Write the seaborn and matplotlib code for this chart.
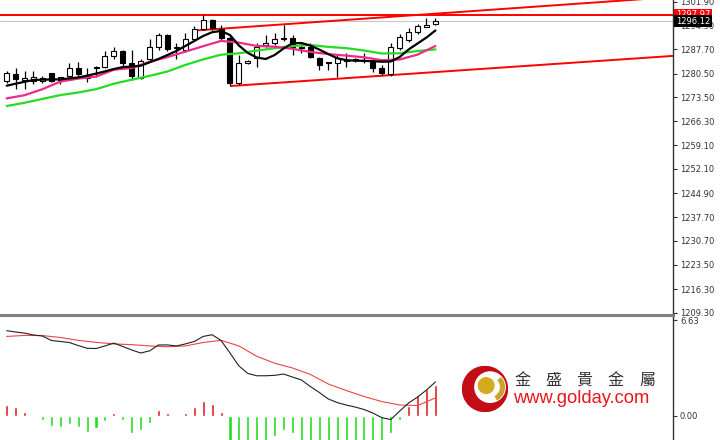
import numpy as np
import pandas as pd
import matplotlib
matplotlib.use('Agg')
import matplotlib.pyplot as plt
from matplotlib.patches import Circle, Wedge
import seaborn as sns

# --- price panel data (bar index 0..48) ---
opens = [1278.29, 1280.37, 1278.59, 1278.29, 1278.38, 1280.58, 1278.59, 1279.78, 1282.25, 1280.07,
         1282.07, 1282.55, 1285.73, 1287.31, 1283.74, 1279.27, 1284.75, 1288.32, 1291.99, 1288.03,
         1287.52, 1290.71, 1293.77, 1296.45, 1293.77, 1291.09, 1277.60, 1283.56, 1285.05, 1289.01,
         1289.52, 1290.71, 1291.18, 1288.50, 1288.50, 1285.23, 1283.86, 1283.56, 1284.39, 1284.54,
         1284.33, 1284.04, 1282.25, 1280.37, 1288.03, 1290.50, 1292.97, 1294.46, 1295.17]
highs = [1281.36, 1282.07, 1281.36, 1281.36, 1279.78, 1280.76, 1279.57, 1283.56, 1284.04, 1282.25,
         1282.67, 1287.22, 1288.50, 1287.52, 1287.52, 1284.75, 1290.71, 1292.49, 1292.20, 1289.69,
         1292.67, 1294.67, 1297.90, 1296.66, 1294.96, 1291.69, 1286.03, 1284.43, 1289.69, 1291.99,
         1292.49, 1294.96, 1291.99, 1289.52, 1289.69, 1285.53, 1284.04, 1286.03, 1286.54, 1285.05,
         1286.54, 1284.54, 1283.05, 1289.52, 1292.20, 1293.98, 1295.17, 1296.96, 1296.96]
lows = [1277.60, 1275.82, 1275.82, 1277.39, 1277.60, 1278.08, 1277.39, 1279.39, 1279.39, 1278.08,
        1279.57, 1282.07, 1284.75, 1282.55, 1278.59, 1278.97, 1284.04, 1287.52, 1287.31, 1284.75,
        1287.01, 1290.29, 1293.48, 1293.48, 1290.50, 1276.80, 1277.10, 1283.46, 1282.55, 1288.50,
        1289.01, 1290.29, 1286.03, 1286.54, 1285.05, 1281.56, 1281.56, 1279.39, 1282.55, 1284.04,
        1283.74, 1281.06, 1280.07, 1279.87, 1287.52, 1289.99, 1292.20, 1294.46, 1294.96]
closes = [1280.76, 1278.79, 1279.27, 1279.39, 1279.09, 1278.29, 1279.39, 1282.25, 1280.37, 1279.09,
          1282.55, 1285.73, 1287.31, 1283.56, 1279.78, 1284.24, 1288.32, 1291.99, 1287.73, 1288.50,
          1290.71, 1293.68, 1296.60, 1293.98, 1291.09, 1277.60, 1283.56, 1284.33, 1288.50, 1289.52,
          1290.71, 1291.00, 1288.50, 1288.03, 1285.53, 1283.05, 1283.56, 1285.05, 1284.69, 1284.54,
          1284.36, 1282.07, 1280.76, 1288.50, 1291.48, 1292.97, 1294.76, 1294.96, 1296.12]

ma_fast = [1276.89, 1277.48, 1278.05, 1278.59, 1278.68, 1278.74, 1278.79, 1279.06, 1279.33, 1279.87,
           1280.49, 1281.15, 1281.86, 1282.43, 1282.58, 1282.84, 1283.86, 1284.87, 1286.03, 1287.22,
           1288.71, 1290.20, 1291.69, 1292.82, 1293.18, 1291.99, 1288.86, 1286.63, 1285.29, 1284.84,
           1286.03, 1287.97, 1289.54, 1289.60, 1288.86, 1287.64, 1286.33, 1285.05, 1284.51, 1284.33,
           1284.30, 1284.18, 1284.04, 1284.10, 1285.44, 1287.67, 1289.46, 1291.24, 1293.33]
ma_idx = list(range(0, 49, 2))
ma_mid = [1273.11, 1274.06, 1275.85, 1278.11, 1279.00, 1279.60, 1281.65, 1282.16, 1284.00, 1285.41,
          1287.04, 1288.65, 1290.23, 1289.72, 1288.71, 1288.50, 1287.88, 1286.95, 1286.30, 1285.85,
          1285.35, 1284.48, 1284.69, 1286.15, 1288.71]
ma_slow = [1270.84, 1271.80, 1272.96, 1274.09, 1274.86, 1275.85, 1277.48, 1278.68, 1279.81, 1281.12,
           1283.08, 1284.72, 1286.12, 1286.54, 1287.34, 1288.05, 1288.71, 1289.01, 1288.44, 1288.08,
           1287.37, 1286.48, 1286.54, 1287.22, 1287.70]

# channel lines: (bar index, price) end points
upper_line = [(21.1, 1293.32), (74.6, 1303.30)]
lower_line = [(25.1, 1276.80), (74.6, 1285.76)]
level_high = 1297.97
level_bid = 1296.12

price_ticks = [1209.30, 1216.30, 1223.50, 1230.70, 1237.70, 1244.90, 1252.10,
               1259.10, 1266.30, 1273.50, 1280.50, 1287.70, 1294.90, 1301.90]

# --- MACD panel data ---
macd_main = [5.89, 5.80, 5.72, 5.59, 5.52, 5.21, 5.14, 5.07, 4.86, 4.67,
             4.65, 4.83, 5.03, 4.79, 4.55, 4.34, 4.49, 4.90, 4.90, 4.83,
             4.97, 5.14, 5.49, 5.61, 5.21, 4.34, 3.44, 2.92, 2.76, 2.76,
             2.79, 2.88, 2.67, 2.47, 2.01, 1.60, 1.15, 0.90, 0.73, 0.59,
             0.42, 0.17, -0.15, -0.28, 0.31, 0.87, 1.28, 1.77, 2.33]
macd_signal = [5.49, 5.56, 5.55, 5.42, 5.22, 5.08, 4.97, 4.92, 4.83, 4.78,
               4.83, 5.07, 5.22, 4.83, 4.11, 3.63, 3.30, 2.85, 2.19, 1.74,
               1.32, 0.97, 0.73, 0.69, 1.22]
osma = [0.76, 0.56, 0.21, -0.05, -0.28, -0.76, -0.83, -0.56, -0.83, -1.11,
        -0.90, -0.35, 0.14, -0.28, -1.18, -1.04, -0.49, 0.35, 0.14, 0.03,
        0.14, 0.56, 1.04, 0.83, 0.21, -2.2, -2.6, -2.5, -2.3, -2.0,
        -1.39, -1.04, -1.18, -1.9, -2.0, -2.1, -2.0, -1.9, -1.9, -1.8,
        -1.9, -2.0, -1.9, -1.18, -0.28, 0.66, 1.39, 1.81, 2.15]
macd_ticks = [0.00, 6.63]

idx = np.arange(len(closes))
df = pd.DataFrame({'i': idx, 'o': opens, 'h': highs, 'l': lows, 'c': closes, 'fast': ma_fast,
                   'macd': macd_main, 'osma': osma})
df['up'] = df['c'] >= df['o']
df['sign'] = np.where(df['osma'] >= 0, 'pos', 'neg')

sns.set_style('white')
plt.rcParams['font.family'] = ['DejaVu Sans']

fig = plt.figure(figsize=(7.2, 4.4), dpi=100)
ax = fig.add_axes([0, 125 / 440, 673 / 720, 315 / 440])
ax2 = fig.add_axes([0, 0, 673 / 720, 123 / 440])

# --- price panel ---
ax.axhline(level_bid, color='#c8c8c8', lw=0.8, zorder=1)
ax.axhline(level_high, color='#ff0000', lw=1.4, zorder=1)
for seg in (upper_line, lower_line):
    xs, ys = zip(*seg)
    ax.plot(xs, ys, color='#ff0000', lw=1.4, zorder=1)

ax.vlines(df['i'], df['l'], df['h'], color='black', lw=0.9, zorder=2)
body_h = np.maximum((df['c'] - df['o']).abs(), 0.3)
body_b = np.minimum(df['o'], df['c'])
ax.bar(df['i'], body_h, bottom=body_b, width=0.56,
       color=np.where(df['up'], 'white', 'black'), edgecolor='black', lw=0.8, zorder=3)

sns.lineplot(x=ma_idx, y=ma_slow, ax=ax, color='#22dd22', lw=1.6, zorder=4)
sns.lineplot(x=ma_idx, y=ma_mid, ax=ax, color='#ee2a8a', lw=1.6, zorder=4)
sns.lineplot(data=df, x='i', y='fast', ax=ax, color='black', lw=1.6, zorder=5)

ax.set_xlim(-0.75, 74.6)
ax.set_ylim(1208.60, 1302.41)
ax.set_yticks(price_ticks)
ax.set_yticklabels([f'{t:.2f}' for t in price_ticks])

ax.text(1.004, level_high, f'{level_high:.2f}', transform=ax.get_yaxis_transform(),
        color='white', fontsize=6, va='center', ha='left', zorder=10, clip_on=False,
        bbox=dict(fc='#ff0000', ec='none', pad=1.2))
ax.text(1.004, level_bid, f'{level_bid:.2f}', transform=ax.get_yaxis_transform(),
        color='white', fontsize=6, va='center', ha='left', zorder=10, clip_on=False,
        bbox=dict(fc='black', ec='none', pad=1.2))

# --- MACD panel ---
sns.barplot(data=df, x='i', y='osma', hue='sign', palette={'pos': '#ff0000', 'neg': '#00ff00'},
            native_scale=True, dodge=False, width=0.34, legend=False, ax=ax2, zorder=2)
sns.lineplot(x=ma_idx, y=macd_signal, ax=ax2, color='#ee4444', lw=0.8, zorder=3)
sns.lineplot(data=df, x='i', y='macd', ax=ax2, color='#222222', lw=0.8, zorder=4)
ax2.set_xlim(-0.75, 74.6)
ax2.set_ylim(-1.70, 6.84)
ax2.set_yticks(macd_ticks)
ax2.set_yticklabels([f'{t:.2f}' for t in macd_ticks])

for a in (ax, ax2):
    a.set_xlabel('')
    a.set_ylabel('')
    a.set_xticks([])
    a.yaxis.tick_right()
    a.tick_params(axis='y', direction='out', length=3, width=0.8, pad=2,
                  labelsize=6, colors='#333333', right=True)
    for s in ('left', 'top'):
        a.spines[s].set_visible(False)
    a.spines['right'].set_color('#333333')
    a.spines['right'].set_linewidth(1.0)
    a.grid(False)
ax.spines['bottom'].set_color('#808080')
ax.spines['bottom'].set_linewidth(2.2)
ax2.spines['bottom'].set_visible(False)

# --- logo ---
lax = fig.add_axes([462 / 720, 28 / 440, 46 / 720, 46 / 440])
lax.set_xlim(-1, 1)
lax.set_ylim(-1, 1)
lax.set_aspect('equal')
lax.axis('off')
lax.add_patch(Circle((0, 0), 0.98, color='#c40c16'))
lax.add_patch(Circle((0.22, 0.08), 0.66, color='white'))
lax.add_patch(Wedge((0.22, 0.08), 0.62, -60, 40, width=0.16, color='#c9a227'))
lax.add_patch(Circle((0.05, 0.15), 0.34, color='#d4aa1e'))

chars = list('金盛貴金屬')
for k, ch in enumerate(chars):
    fig.text((522 + k * 31.3) / 720, 1 - 380 / 440, ch, fontsize=11.5, color='#333333',
             ha='center', va='center', family=['Noto Sans CJK TC', 'DejaVu Sans'])
fig.text(513 / 720, 1 - 398 / 440, 'www.golday.com', fontsize=13.2, color='#e8141e',
         ha='left', va='center', family=['Liberation Sans', 'DejaVu Sans'])

fig.savefig('out.png', dpi=100)
